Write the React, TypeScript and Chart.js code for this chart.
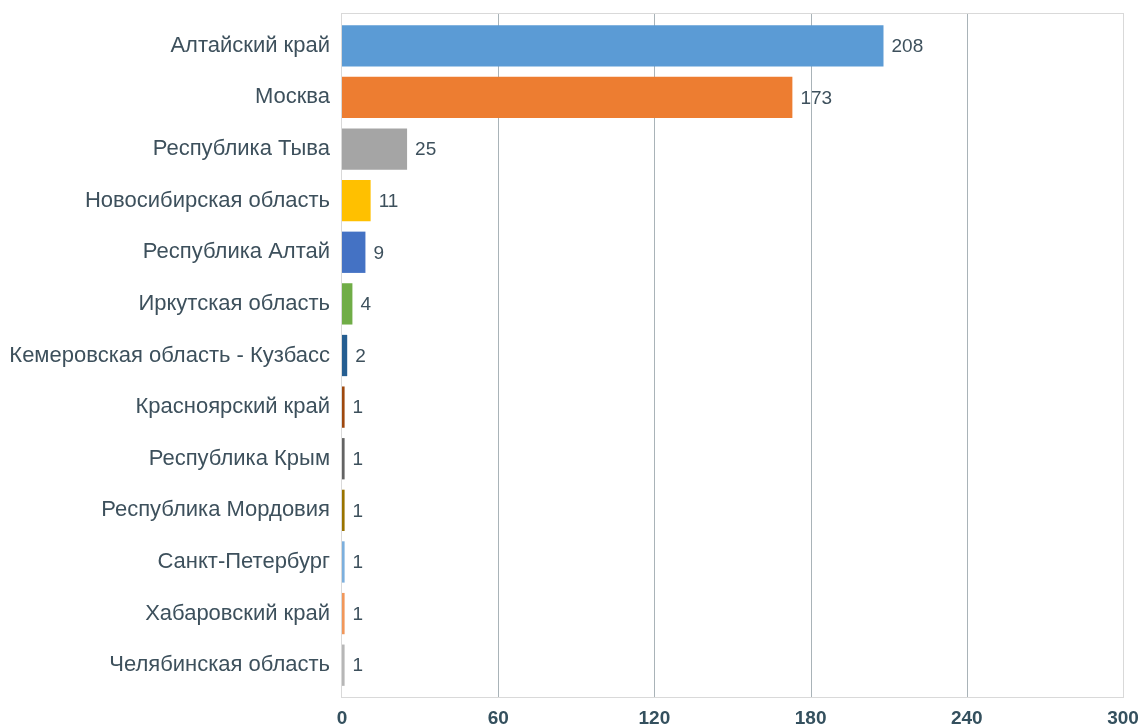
import React, { useEffect, useRef } from "react";
import { Chart, registerables } from "chart.js";

Chart.register(...registerables);

const categories = [
  "Алтайский край",
  "Москва",
  "Республика Тыва",
  "Новосибирская область",
  "Республика Алтай",
  "Иркутская область",
  "Кемеровская область - Кузбасс",
  "Красноярский край",
  "Республика Крым",
  "Республика Мордовия",
  "Санкт-Петербург",
  "Хабаровский край",
  "Челябинская область",
];

const values = [208, 173, 25, 11, 9, 4, 2, 1, 1, 1, 1, 1, 1];

const barColors = [
  "#5B9BD5",
  "#ED7D31",
  "#A5A5A5",
  "#FFC000",
  "#4472C4",
  "#70AD47",
  "#255E91",
  "#9E480E",
  "#636363",
  "#997300",
  "#7CAFDD",
  "#F1975A",
  "#B7B7B7",
];

const xTicks = [0, 60, 120, 180, 240, 300];

const TEXT = "#3d505c";
const FONT = '"Liberation Sans", Arial, sans-serif';

const framePlugin = {
  id: "frame",
  beforeDatasetsDraw(chart: any) {
    const { ctx, chartArea } = chart;
    const xs = chart.scales.x;
    const top = chartArea.top - 7;
    const bottom = chartArea.bottom + 6;
    ctx.save();
    ctx.lineWidth = 1;
    ctx.strokeStyle = "#a9b3b8";
    xTicks.forEach((v) => {
      if (v === 0 || v === 300) return;
      const x = Math.round(xs.getPixelForValue(v)) + 0.5;
      ctx.beginPath();
      ctx.moveTo(x, top);
      ctx.lineTo(x, bottom);
      ctx.stroke();
    });
    ctx.strokeStyle = "#d9d9d9";
    const l = Math.round(xs.getPixelForValue(0)) - 0.5;
    const r = Math.round(xs.getPixelForValue(300)) + 0.5;
    ctx.strokeRect(l, top + 0.5, r - l, bottom - top);
    ctx.restore();
  },
  afterDatasetsDraw(chart: any) {
    const { ctx } = chart;
    const meta = chart.getDatasetMeta(0);
    ctx.save();
    ctx.fillStyle = TEXT;
    ctx.font = `19px ${FONT}`;
    ctx.textAlign = "left";
    ctx.textBaseline = "middle";
    meta.data.forEach((bar: any, i: number) => {
      ctx.fillText(String(values[i]), bar.x + 8, bar.y + 1);
    });
    ctx.restore();
  },
};

export default function App() {
  const ref = useRef<HTMLCanvasElement | null>(null);

  useEffect(() => {
    document.body.style.margin = "0";
    const canvas = ref.current;
    if (!canvas) return;
    const chart = new Chart(canvas, {
      type: "bar",
      data: {
        labels: categories,
        datasets: [
          {
            data: values,
            backgroundColor: barColors,
            borderWidth: 0,
            barPercentage: 0.8,
            categoryPercentage: 1,
          },
        ],
      },
      options: {
        indexAxis: "y",
        animation: false,
        responsive: false,
        maintainAspectRatio: false,
        layout: { padding: { top: 20, right: 21, left: 0, bottom: 0 } },
        plugins: {
          legend: { display: false },
          tooltip: { enabled: false },
        },
        scales: {
          x: {
            type: "linear",
            min: 0,
            max: 300,
            afterBuildTicks(scale: any) {
              scale.ticks = xTicks.map((v) => ({ value: v }));
            },
            afterFit(scale: any) {
              scale.height = 33;
              scale.paddingLeft = 0;
              scale.paddingRight = 0;
            },
            grid: { display: false, drawTicks: false },
            border: { display: false },
            ticks: {
              padding: 16,
              color: "#34505e",
              font: { family: '"Liberation Sans", Arial, sans-serif', size: 19, weight: "bold" },
              maxRotation: 0,
              autoSkip: false,
            },
          },
          y: {
            type: "category",
            afterFit(scale: any) {
              scale.width = 342;
              scale.paddingTop = 0;
              scale.paddingBottom = 0;
            },
            grid: { display: false, drawTicks: false },
            border: { display: false },
            ticks: {
              padding: 12,
              color: TEXT,
              font: { family: FONT, size: 22 },
              autoSkip: false,
            },
          },
        },
      },
      plugins: [framePlugin],
    });
    return () => chart.destroy();
  }, []);

  return (
    <div style={{ width: 1144, height: 724 }}>
      <canvas ref={ref} width={1144} height={724} style={{ display: "block" }} />
    </div>
  );
}
